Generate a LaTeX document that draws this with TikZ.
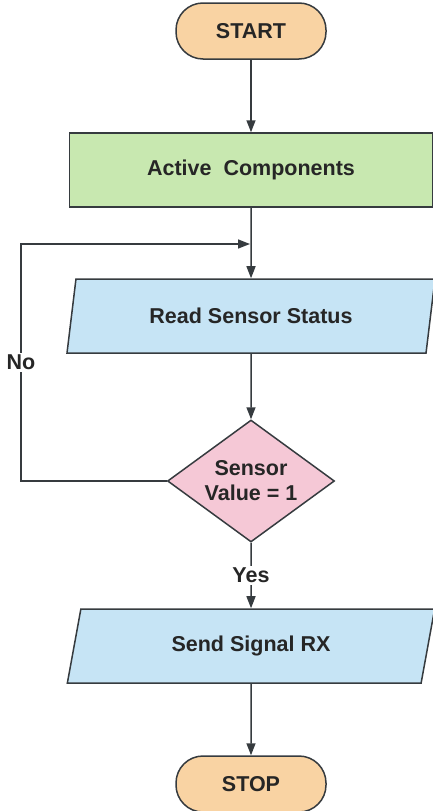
\documentclass[tikz,border=0pt]{standalone}
\usepackage{fontspec}
\setmainfont{Liberation Sans}
\usetikzlibrary{shapes.geometric,arrows.meta}

\definecolor{colInicio}{HTML}{F9D3A3}
\definecolor{colProceso}{HTML}{C8E8B0}
\definecolor{colDatos}{HTML}{C6E4F5}
\definecolor{colDecision}{HTML}{F5C8D6}
\definecolor{colBorde}{HTML}{363B3F}

\begin{document}
\begin{tikzpicture}[
  x=1pt, y=-1pt,
  every node/.style={draw=colBorde, line width=1.5pt, text=black!85, font=\fontsize{21.5}{25}\selectfont\bfseries, inner sep=2pt},
  terminal/.style={rectangle, rounded corners=27pt, fill=colInicio, minimum width=150pt, minimum height=56pt},
  proceso/.style={rectangle, fill=colProceso, minimum width=363pt, minimum height=74pt},
  datos/.style={trapezium, trapezium left angle=75, trapezium right angle=105, trapezium stretches=true, fill=colDatos, minimum width=368pt, minimum height=74pt},
  decision/.style={diamond, shape aspect=1.37, fill=colDecision, minimum width=167pt, minimum height=122pt, align=center, inner sep=0pt},
  flecha/.style={draw=colBorde, line width=1.5pt, -{Triangle[length=12pt,width=9pt]}},
  etiqueta/.style={draw=none, fill=white, inner sep=2pt}
]
  \useasboundingbox (0,0) rectangle (433,811);

  % Bloques del diagrama, de arriba abajo
  \node[terminal] (inicio) at (251,31) {START};
  \node[proceso] (activar) at (251,170) {Active\ \ Components};
  \node[datos] (leer) at (251,316) {Read Sensor Status};
  \node[decision] (sensor) at (251,481) {Sensor\\Value = 1};
  \node[datos] (enviar) at (251,646) {Send Signal RX};
  \node[terminal] (fin) at (251,784) {STOP};

  % Puntos del lazo de retorno
  \coordinate (esqInf) at (21,481);
  \coordinate (esqSup) at (21,244);
  \coordinate (union) at (250,244);

  % Flechas principales
  \draw[flecha] (inicio.south) -- (activar.north);
  \draw[flecha] (activar.south) -- (leer.north);
  \draw[flecha] (leer.south) -- (sensor.north);
  \draw[flecha] (sensor.south) -- node[etiqueta] {Yes} (enviar.north);
  \draw[flecha] (enviar.south) -- (fin.north);

  % Lazo cuando el sensor no vale 1
  \draw[flecha] (sensor.west) -- (esqInf) -- node[etiqueta] {No} (esqSup) -- (union);

\end{tikzpicture}
\end{document}
